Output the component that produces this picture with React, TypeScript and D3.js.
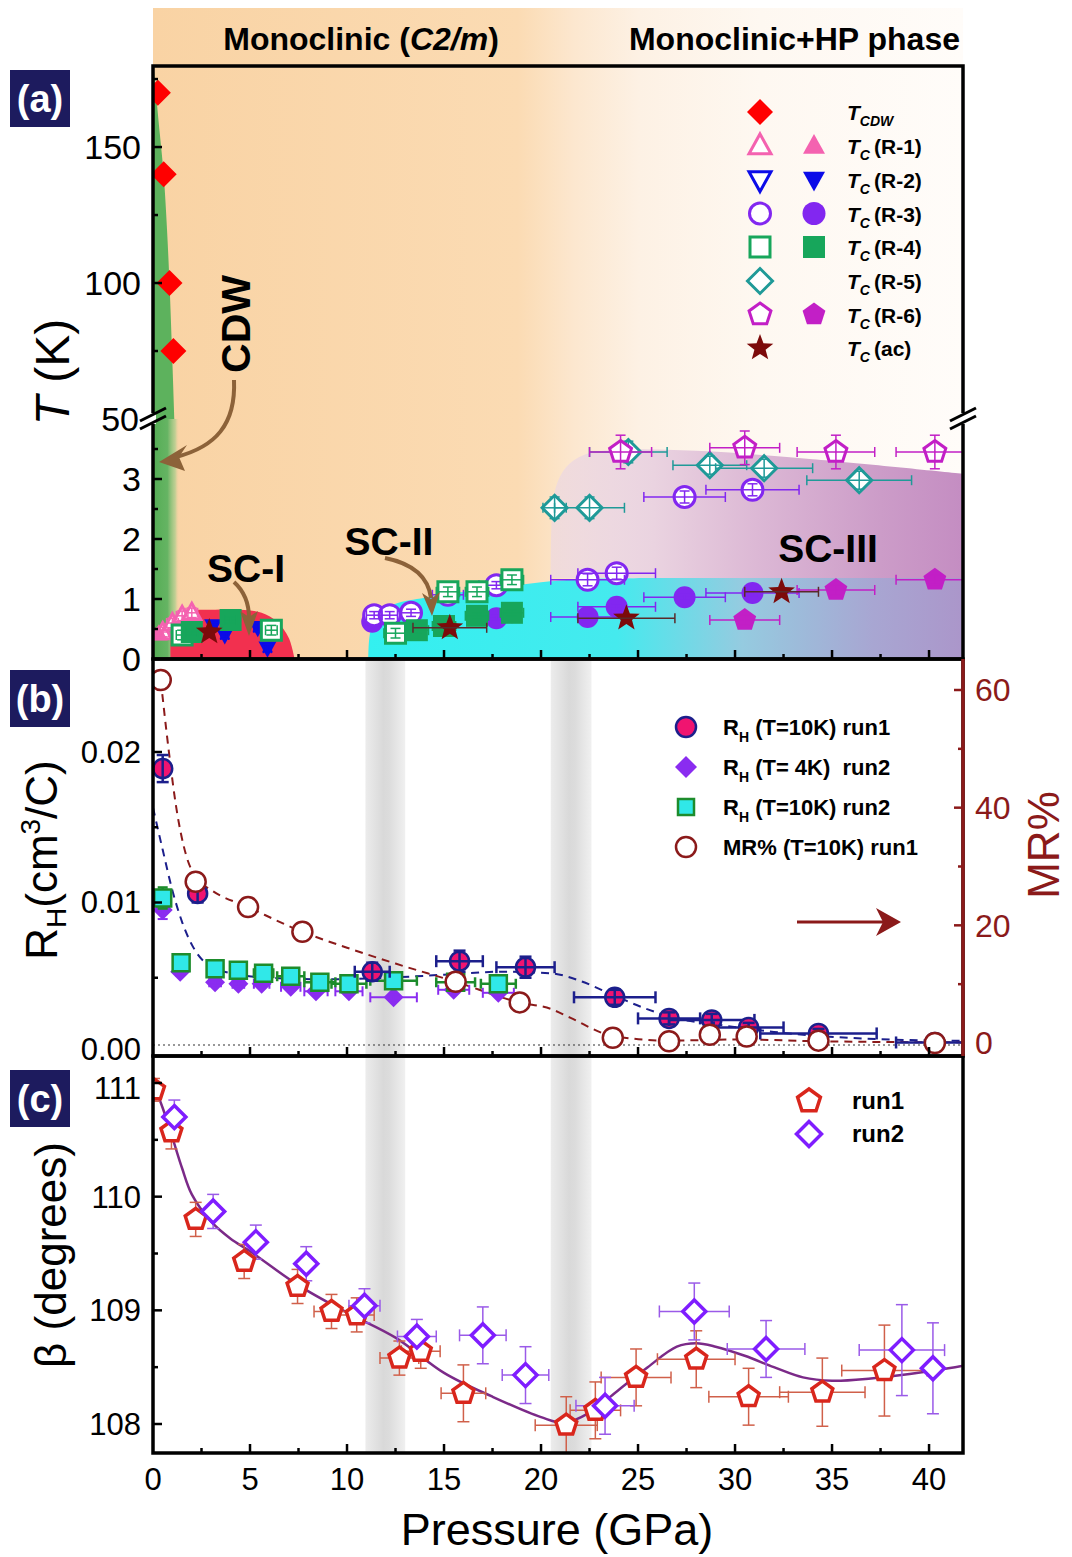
import React from 'react';
import * as d3 from 'd3';

const FONT = "'Liberation Sans', Arial, Helvetica, sans-serif";

// ---------- panel (a): phase diagram  [P (GPa), T (K), xErr, yErr]
const tcdw = [[0.25, 170], [0.55, 140], [0.85, 100], [1.05, 75]];
const r1Open = [[0.5, 0.45, 0.3, 0.08], [1.0, 0.6, 0.3, 0.08], [1.5, 0.72, 0.3, 0.08], [2.0, 0.77, 0.3, 0.08]];
const r1Fill = [[0.3, 0.42, 0.2, 0.06]];
const r2Fill = [[3.1, 0.55, 0.2, 0.06], [3.7, 0.4, 0.2, 0.06], [5.4, 0.52, 0.2, 0.06], [5.9, 0.18, 0.2, 0.06]];
const r3Open = [[11.4, 0.73, 0.4, 0.06], [12.2, 0.73, 0.4, 0.06], [13.3, 0.77, 0.5, 0.06], [15.2, 1.07, 0.8, 0.06], [17.7, 1.23, 0.9, 0.06], [22.4, 1.32, 1.9, 0.1], [23.9, 1.43, 2.0, 0.1], [27.4, 2.7, 2.1, 0.1], [30.9, 2.82, 2.4, 0.1]];
const r3Fill = [[11.3, 0.62, 0.4, 0.05], [17.7, 0.68, 0.8, 0.05], [22.4, 0.7, 1.9, 0.05], [23.9, 0.87, 2.0, 0.05], [27.4, 1.03, 2.1, 0.05], [30.9, 1.1, 2.4, 0.05]];
const r4Open = [[1.5, 0.4, 0.3, 0.08], [6.1, 0.48, 0.3, 0.08], [12.5, 0.43, 0.6, 0.08], [15.2, 1.12, 0.6, 0.08], [16.7, 1.12, 0.6, 0.08], [18.5, 1.32, 0.6, 0.08]];
const r4Fill = [[2.0, 0.45, 0.3, 0.05], [4.0, 0.65, 0.3, 0.05], [13.6, 0.48, 0.6, 0.05], [15.0, 0.55, 0.6, 0.05], [16.7, 0.72, 0.6, 0.05], [18.5, 0.77, 0.6, 0.05]];
const r5Open = [[20.7, 2.52, 0.6, 0.18], [22.5, 2.52, 1.8, 0.18], [24.5, 3.45, 2.0, 0.18], [28.7, 3.23, 1.9, 0.15], [31.5, 3.18, 2.5, 0.15], [36.4, 2.98, 2.7, 0.15]];
const r6Open = [[24.1, 3.45, 1.6, 0.28], [30.5, 3.52, 1.8, 0.28], [35.2, 3.45, 2.0, 0.28], [40.3, 3.45, 2.0, 0.28]];
const r6Fill = [[30.5, 0.65, 1.8, 0.08], [35.2, 1.15, 2.0, 0.08], [40.3, 1.32, 2.0, 0.08]];
const acStar = [[2.9, 0.45, 0, 0], [15.3, 0.52, 1.9, 0], [24.4, 0.68, 2.5, 0], [32.4, 1.12, 1.9, 0]];

// phase region outlines
const cdwEdge = [[0.05, 178], [0.15, 170], [0.35, 155], [0.55, 140], [0.72, 120], [0.85, 100], [0.98, 75], [1.1, 50]];
const sc1Dome = [[0.9, 0], [0.95, 0.45], [1.2, 0.7], [1.8, 0.8], [3, 0.82], [4.5, 0.82], [5.6, 0.77], [6.4, 0.62], [7.0, 0.35], [7.3, 0]];
const sc2Edge = [[11.1, 0], [11.2, 0.45], [11.6, 0.75], [12.5, 0.92], [14, 1.02], [16, 1.12], [18, 1.2], [20, 1.28], [22, 1.33], [26, 1.35], [42, 1.35]];
const sc3Edge = [[20.5, 1.35], [20.55, 2.3], [20.75, 2.85], [21.3, 3.2], [22.2, 3.4], [23.5, 3.48], [28, 3.47], [34, 3.33], [42, 3.08]];

// ---------- panel (b): Hall coefficient & MR  [P, value, xErr, yErr]
const rhRun1 = [[0.5, 0.0189, 0, 0.0009], [2.3, 0.0106, 0, 0.0006], [11.3, 0.0054, 0.9, 0.0006], [15.8, 0.0061, 1.2, 0.0007], [19.2, 0.0057, 1.5, 0.0007], [23.8, 0.0037, 2.1, 0.0005], [26.6, 0.0023, 1.6, 0.0004], [28.8, 0.0022, 2.2, 0.0004], [30.7, 0.0017, 1.8, 0.0003], [34.3, 0.0013, 3.0, 0.0003], [40.3, 0.0007, 2.0, 0.0002]];
const rh4K = [[0.5, 0.0095, 0, 0.0006], [1.4, 0.0054, 0.2, 0.0002], [3.2, 0.0047, 0.3, 0.0002], [4.4, 0.0046, 0.3, 0.0002], [5.6, 0.0046, 0.4, 0.0002], [7.1, 0.0044, 0.5, 0.0002], [8.4, 0.0041, 0.6, 0.0002], [10.1, 0.0041, 0.7, 0.0002], [12.4, 0.0037, 1.2, 0.0002], [15.5, 0.0042, 0.8, 0.0002], [17.8, 0.004, 0.8, 0.0002]];
const rh10K = [[0.5, 0.0103, 0, 0.0007], [1.45, 0.006, 0.2, 0.0003], [3.2, 0.0056, 0.3, 0.0003], [4.4, 0.0055, 0.4, 0.0003], [5.7, 0.0053, 0.5, 0.0003], [7.1, 0.0051, 0.7, 0.0003], [8.6, 0.0047, 0.8, 0.0003], [10.1, 0.0046, 0.9, 0.0003], [12.4, 0.0048, 1.2, 0.0003], [15.6, 0.0047, 1.0, 0.0003], [17.8, 0.0046, 0.9, 0.0003]];
const mrRun1 = [[0.4, 61.7], [2.2, 27.4], [4.9, 23.1], [7.7, 18.9], [15.6, 10.4], [18.9, 6.9], [23.7, 0.9], [26.6, 0.3], [28.7, 1.4], [30.6, 1.1], [34.3, 0.4], [40.3, 0]];
const rhGuide = [[0, 0.0163], [0.5, 0.0135], [1, 0.0108], [1.5, 0.0087], [2, 0.0072], [2.7, 0.006], [4, 0.0053], [6, 0.005], [9, 0.0049], [12, 0.005], [15, 0.0052], [18, 0.0054], [20.5, 0.0053], [22, 0.0048], [23.8, 0.0038], [25.5, 0.0029], [27, 0.0023], [29, 0.0019], [32, 0.0014], [36, 0.001], [42, 0.0008]];
const mrGuide = [[0.4, 61.7], [0.8, 50], [1.2, 40], [1.7, 32], [2.2, 28.2], [3, 26], [4.9, 23.1], [7.7, 18.9], [10, 16.2], [12.5, 13.5], [15.6, 10.4], [18.9, 6.9], [20.5, 5.8], [21.5, 4.3], [23.7, 1.2], [26.6, 0.4], [30, 0.6], [34.3, 0.3], [42, 0.1]];

// ---------- panel (c): monoclinic angle beta  [P, beta, xErr, yErr]
const betaRun1 = [[0.05, 110.94, 0, 0.1], [0.95, 110.57, 0, 0.15], [2.2, 109.8, 0, 0.15], [4.7, 109.43, 0, 0.15], [7.45, 109.21, 0.4, 0.15], [9.2, 108.99, 0.9, 0.15], [10.5, 108.96, 0.9, 0.15], [12.7, 108.58, 1.0, 0.15], [13.8, 108.64, 1.0, 0.15], [16.0, 108.27, 1.15, 0.25], [21.3, 107.99, 1.6, 0.25], [22.8, 108.12, 1.3, 0.25], [24.9, 108.41, 1.8, 0.25], [28.0, 108.57, 2.0, 0.25], [30.7, 108.24, 2.05, 0.25], [34.5, 108.28, 2.2, 0.3], [37.7, 108.47, 2.2, 0.4]];
const betaRun2 = [[1.1, 110.7, 0, 0.15], [3.1, 109.87, 0, 0.15], [5.3, 109.6, 0, 0.15], [7.9, 109.41, 0, 0.15], [10.9, 109.04, 0.8, 0.15], [13.6, 108.77, 1.0, 0.15], [17.0, 108.78, 1.2, 0.25], [19.2, 108.43, 1.2, 0.25], [23.3, 108.16, 1.5, 0.25], [27.9, 108.99, 1.8, 0.25], [31.6, 108.66, 2.0, 0.25], [38.6, 108.65, 2.2, 0.4], [40.2, 108.49, 0, 0.4]];
const betaFit = [[0, 111.0], [0.5, 110.78], [1, 110.52], [1.5, 110.25], [2, 110.02], [3, 109.78], [4, 109.63], [5, 109.52], [7.5, 109.22], [10, 108.98], [12.5, 108.76], [15, 108.45], [17.5, 108.24], [20, 108.06], [21.2, 108.01], [22.5, 108.1], [24, 108.3], [25.5, 108.5], [27, 108.68], [28, 108.71], [29, 108.68], [30.5, 108.6], [32, 108.5], [33.5, 108.41], [35, 108.38], [37, 108.4], [39, 108.44], [41, 108.49], [42, 108.52]];

const grayBands = [[10.95, 13.0], [20.5, 22.6]];

const aLegendRows = ['CDW', '(R-1)', '(R-2)', '(R-3)', '(R-4)', '(R-5)', '(R-6)', '(ac)'];
const bLegendRows = [' (T=10K) run1', ' (T= 4K)  run2', ' (T=10K) run2', 'MR% (T=10K) run1'];
const cLegendRows = ['run1', 'run2'];
const xTickLabels = [0, 5, 10, 15, 20, 25, 30, 35, 40];

const COL = {
  cdw: '#ff0000', r1: '#f462b0', r2: '#0b0be8', r3: '#8227f0', r4: '#17a65b',
  r5: '#1f9a98', r6: '#c21fc6', ac: '#7c0a0a', navy: '#1c1f8c', mr: '#8b1a1a',
  pink: '#f01470', cyan: '#30e8e8', green: '#1d8c2c', purple: '#8a2cf0',
  run1: '#d9261c', run2: '#7f1dff', fit: '#7b2a88', brown: '#8c6239'
};

// scales
const L = 153, R = 963;
const X = d3.scaleLinear().domain([0, 41.75]).range([L, R]);
const yUp = d3.scaleLinear().domain([50, 179.8]).range([419, 66]);
const yLo = d3.scaleLinear().domain([0, 4]).range([659, 419]);
const yRH = d3.scaleLinear().domain([0, 0.02]).range([1053, 752]);
const yMR = d3.scaleLinear().domain([0, 60]).range([1043, 690]);
const yB = d3.scaleLinear().domain([108, 111]).range([1424, 1083]);

function shape(kind: string, r: number) {
  if (kind === 'circle') return `M${r},0A${r},${r} 0 1,1 ${-r},0A${r},${r} 0 1,1 ${r},0Z`;
  if (kind === 'square') return `M${-r},${-r}H${r}V${r}H${-r}Z`;
  if (kind === 'diamond') return `M0,${-r}L${r},0L0,${r}L${-r},0Z`;
  if (kind === 'up') return `M0,${-r * 1.05}L${r},${r * 0.75}L${-r},${r * 0.75}Z`;
  if (kind === 'down') return `M0,${r * 1.05}L${r},${-r * 0.75}L${-r},${-r * 0.75}Z`;
  const n = kind === 'star' ? 10 : 5;
  const pts = d3.range(n).map(i => {
    const a = -Math.PI / 2 + (i * 2 * Math.PI) / n;
    const rr = kind === 'star' && i % 2 ? r * 0.42 : r;
    return [rr * Math.cos(a), rr * Math.sin(a)];
  });
  return 'M' + pts.map(p => p.join(',')).join('L') + 'Z';
}

function Mk({ kind, x, y, r, fill, stroke, sw = 0 }: any) {
  return <path d={shape(kind, r)} transform={`translate(${x},${y})`} fill={fill} stroke={stroke || 'none'} strokeWidth={sw} />;
}

function EB({ x, y, x0, x1, y0, y1, color, w = 1.5, cap = 5 }: any) {
  return (
    <g stroke={color} strokeWidth={w} fill="none">
      {x1 - x0 > 0.5 && <>
        <line x1={x0} x2={x1} y1={y} y2={y} />
        <line x1={x0} x2={x0} y1={y - cap} y2={y + cap} />
        <line x1={x1} x2={x1} y1={y - cap} y2={y + cap} />
      </>}
      {y0 - y1 > 0.5 && <>
        <line x1={x} x2={x} y1={y0} y2={y1} />
        <line x1={x - cap} x2={x + cap} y1={y0} y2={y0} />
        <line x1={x - cap} x2={x + cap} y1={y1} y2={y1} />
      </>}
    </g>
  );
}

const aSeries = [
  { data: r1Open, kind: 'up', c: COL.r1, open: true, r: 9 },
  { data: r1Fill, kind: 'up', c: COL.r1, open: false, r: 9 },
  { data: r2Fill, kind: 'down', c: COL.r2, open: false, r: 9 },
  { data: r3Fill, kind: 'circle', c: COL.r3, open: false, r: 11 },
  { data: r3Open, kind: 'circle', c: COL.r3, open: true, r: 10.5 },
  { data: r5Open, kind: 'diamond', c: COL.r5, open: true, r: 12.5 },
  { data: r6Open, kind: 'pentagon', c: COL.r6, open: true, r: 11.5 },
  { data: r4Open, kind: 'square', c: COL.r4, open: true, r: 10 },
  { data: r4Fill, kind: 'square', c: COL.r4, open: false, r: 11 },
  { data: r6Fill, kind: 'pentagon', c: COL.r6, open: false, r: 12 },
  { data: acStar, kind: 'star', c: COL.ac, open: false, r: 14, ec: '#5a2a2a' },
];

const aLegendMk = [
  [['diamond', COL.cdw, false, 13]],
  [['up', COL.r1, true, 11], ['up', COL.r1, false, 11]],
  [['down', COL.r2, true, 11], ['down', COL.r2, false, 11]],
  [['circle', COL.r3, true, 10.5], ['circle', COL.r3, false, 11.5]],
  [['square', COL.r4, true, 10], ['square', COL.r4, false, 11]],
  [['diamond', COL.r5, true, 12.5]],
  [['pentagon', COL.r6, true, 11.5], ['pentagon', COL.r6, false, 12]],
  [['star', COL.ac, false, 14]],
];

function ticksX(y: number, up = true) {
  return d3.range(2.5, 41.7, 2.5).map(v => {
    const len = v % 5 === 0 ? 9 : 5;
    return <line key={v} x1={X(v)} x2={X(v)} y1={y} y2={up ? y - len : y + len} stroke="#000" strokeWidth={2.5} />;
  });
}

function ticksY(scale: any, vals: number[], majors: number[], x: number, dir: number, color = '#000') {
  return vals.map(v => {
    const len = majors.includes(v) ? 9 : 5;
    return <line key={v} x1={x} x2={x + dir * len} y1={scale(v)} y2={scale(v)} stroke={color} strokeWidth={2.5} />;
  });
}

export default function App() {
  const curve = d3.line().curve(d3.curveCatmullRom);
  const mono = d3.line().curve(d3.curveMonotoneX);

  const cdwPath = curve(cdwEdge.map(([p, t]) => [X(p), yUp(t)]) as any) + `L${X(0)},${yUp(50)}L${X(0)},${yUp(179.8)}Z`;
  const sc1Path = curve(sc1Dome.map(([p, t]) => [X(p), yLo(t)]) as any) + 'Z';
  const sc2Path = curve(sc2Edge.map(([p, t]) => [X(p), yLo(t)]) as any) + `L${X(42)},${yLo(0)}Z`;
  const sc3Path = curve(sc3Edge.map(([p, t]) => [X(p), yLo(t)]) as any) + `L${X(42)},${yLo(1.35)}Z`;

  const legY = [112, 145.5, 180, 213.5, 247, 281, 314.5, 348];
  const bLegY = [727, 767, 807, 847];

  return (
    <svg width={1072} height={1557} style={{ position: 'absolute', left: 0, top: 0, background: '#fff' }} fontFamily={FONT}>
      <defs>
        <linearGradient id="bgA" gradientUnits="userSpaceOnUse" x1={L} x2={R} y1={0} y2={0}>
          <stop offset="0" stopColor="#f9d3a4" />
          <stop offset="0.45" stopColor="#fbdbb3" />
          <stop offset="0.52" stopColor="#fce7cf" />
          <stop offset="0.6" stopColor="#fdf1e4" />
          <stop offset="0.75" stopColor="#fef8f1" />
          <stop offset="1" stopColor="#fffcf9" />
        </linearGradient>
        <linearGradient id="greenLo" gradientUnits="userSpaceOnUse" x1={L} x2={X(1.35)} y1={0} y2={0}>
          <stop offset="0" stopColor="#55ad55" />
          <stop offset="0.55" stopColor="#65b463" />
          <stop offset="0.85" stopColor="#a8cd8c" stopOpacity="0.7" />
          <stop offset="1" stopColor="#f8d0a0" stopOpacity="0" />
        </linearGradient>
        <linearGradient id="cyanG" gradientUnits="userSpaceOnUse" x1={X(11)} x2={R} y1={0} y2={0}>
          <stop offset="0" stopColor="#33f0f0" />
          <stop offset="0.42" stopColor="#45eaee" />
          <stop offset="0.63" stopColor="#95cbe0" />
          <stop offset="0.85" stopColor="#a8a6d2" />
          <stop offset="1" stopColor="#ab96ca" />
        </linearGradient>
        <linearGradient id="purpG" gradientUnits="userSpaceOnUse" x1={X(20.5)} x2={R} y1={0} y2={0}>
          <stop offset="0" stopColor="#ecd8e2" stopOpacity="0.7" />
          <stop offset="0.25" stopColor="#ead3e0" />
          <stop offset="0.5" stopColor="#dcb8d5" />
          <stop offset="0.8" stopColor="#cc9cc8" />
          <stop offset="1" stopColor="#c48dc2" />
        </linearGradient>
        <linearGradient id="band" x1="0" x2="1" y1="0" y2="0">
          <stop offset="0" stopColor="#ececec" />
          <stop offset="0.45" stopColor="#d9d9d9" />
          <stop offset="0.6" stopColor="#dcdcdc" />
          <stop offset="1" stopColor="#f0f0f0" />
        </linearGradient>
        <clipPath id="clipA"><rect x={L} y={66} width={R - L} height={593} /></clipPath>
        <clipPath id="clipB"><rect x={L} y={659} width={R - L} height={397} /></clipPath>
        <clipPath id="clipC"><rect x={L} y={1056} width={R - L} height={397} /></clipPath>
      </defs>

      {/* header strip + panel (a) background */}
      <rect x={L} y={8} width={R - L} height={651} fill="url(#bgA)" />
      <text x={361} y={50} textAnchor="middle" fontSize={32} fontWeight="bold">
        Monoclinic (<tspan fontStyle="italic">C2/m</tspan>)
      </text>
      <text x={960} y={50} textAnchor="end" fontSize={32} fontWeight="bold">Monoclinic+HP phase</text>

      {/* phase regions */}
      <g clipPath="url(#clipA)">
        <path d={cdwPath} fill="#5db25d" />
        <rect x={L} y={419} width={X(1.35) - L} height={240} fill="url(#greenLo)" />
        <path d={sc1Path} fill="#f2304f" />
        <path d={sc2Path} fill="url(#cyanG)" />
        <path d={sc3Path} fill="url(#purpG)" />

        {tcdw.map(([p, t], i) => <Mk key={i} kind="diamond" x={X(p)} y={yUp(t)} r={13} fill={COL.cdw} />)}

        {aSeries.map((s, si) => (
          <g key={si}>
            {s.data.map(([p, t], i) => (
              <Mk key={i} kind={s.kind} x={X(p)} y={yLo(t)} r={s.r} fill={s.open ? '#fff' : s.c} stroke={s.open ? s.c : 'none'} sw={s.open ? 3 : 0} />
            ))}
            {s.data.map(([p, t, xe, ye], i) => (
              <EB key={'e' + i} x={X(p)} y={yLo(t)} x0={X(p - xe)} x1={X(p + xe)} y0={yLo(t - ye)} y1={yLo(t + ye)} color={(s as any).ec || s.c} w={1.5} cap={5} />
            ))}
          </g>
        ))}
      </g>

      {/* arrows (a) */}
      <g stroke={COL.brown} strokeWidth={4} fill="none">
        <path d="M234,380 C236,425 215,447 176,457" />
        <path d="M234,582 C245,592 249,604 249,618" />
        <path d="M385,558 C410,563 428,575 431,598" />
      </g>
      <g fill={COL.brown}>
        <path d="M159,462 L187,445 L179,457 L185,471 Z" />
        <path d="M249,636 L240,611 L249,617 L258,611 Z" />
        <path d="M432,616 L422,593 L431,599 L440,592 Z" />
      </g>
      <text transform="translate(236,324) rotate(-90)" textAnchor="middle" dy="0.35em" fontSize={41} fontWeight="bold">CDW</text>
      <text x={246} y={582} textAnchor="middle" fontSize={39} fontWeight="bold">SC-I</text>
      <text x={389} y={555} textAnchor="middle" fontSize={39} fontWeight="bold">SC-II</text>
      <text x={828} y={562} textAnchor="middle" fontSize={39} fontWeight="bold">SC-III</text>

      {/* legend (a) */}
      {aLegendMk.map((row, ri) => row.map(([kind, c, open, r], ci) => (
        <Mk key={ri + '-' + ci} kind={kind} x={ci === 0 ? 760 : 814} y={legY[ri]} r={r} fill={open ? '#fff' : c} stroke={open ? c : 'none'} sw={open ? 3 : 0} />
      )))}
      {aLegendRows.map((lab, i) => (
        <text key={i} x={847} y={legY[i] + 8} fontSize={21} fontWeight="bold">
          <tspan fontStyle="italic">T</tspan>
          {i === 0
            ? <tspan fontStyle="italic" fontSize={14} dy={6}>CDW</tspan>
            : <><tspan fontStyle="italic" fontSize={14} dy={6}>C</tspan><tspan x={874} dy={-6}>{lab}</tspan></>}
        </text>
      ))}

      {/* gray bands (b)(c) */}
      {grayBands.map(([a, b], i) => <rect key={i} x={X(a)} y={659} width={X(b) - X(a)} height={794} fill="url(#band)" />)}

      {/* panel (b) */}
      <g clipPath="url(#clipB)">
        <line x1={L} x2={R} y1={1045} y2={1045} stroke="#333" strokeWidth={1.2} strokeDasharray="2,3" />
        <path d={mono(rhGuide.map(([p, v]) => [X(p), yRH(v)]) as any) || ''} fill="none" stroke={COL.navy} strokeWidth={2} strokeDasharray="8,6" />
        <path d={mono(mrGuide.map(([p, v]) => [X(p), yMR(v)]) as any) || ''} fill="none" stroke={COL.mr} strokeWidth={2} strokeDasharray="8,6" />
        {rh4K.map(([p, v, xe, ye], i) => (
          <g key={'d' + i}>
            <Mk kind="diamond" x={X(p)} y={yRH(v)} r={10} fill={COL.purple} />
            <EB x={X(p)} y={yRH(v)} x0={X(p - xe)} x1={X(p + xe)} y0={yRH(v - ye)} y1={yRH(v + ye)} color={COL.purple} w={2} cap={5} />
          </g>
        ))}
        {rh10K.map(([p, v, xe, ye], i) => (
          <g key={'s' + i}>
            <EB x={X(p)} y={yRH(v)} x0={X(p - xe)} x1={X(p + xe)} y0={yRH(v - ye)} y1={yRH(v + ye)} color={COL.green} w={2.5} cap={5} />
            <Mk kind="square" x={X(p)} y={yRH(v)} r={8.5} fill={COL.cyan} stroke={COL.green} sw={2.5} />
          </g>
        ))}
        {rhRun1.map(([p, v, xe, ye], i) => (
          <g key={'c' + i}>
            <Mk kind="circle" x={X(p)} y={yRH(v)} r={9.5} fill={COL.pink} stroke={COL.navy} sw={2.5} />
            <EB x={X(p)} y={yRH(v)} x0={X(p - xe)} x1={X(p + xe)} y0={yRH(v - ye)} y1={yRH(v + ye)} color={COL.navy} w={2.5} cap={6} />
          </g>
        ))}
        {mrRun1.map(([p, v], i) => (
          <Mk key={'m' + i} kind="circle" x={X(p)} y={yMR(v)} r={10} fill="#fff" stroke={COL.mr} sw={2.5} />
        ))}
      </g>
      {/* arrow (b) */}
      <line x1={797} x2={885} y1={922} y2={922} stroke={COL.mr} strokeWidth={3} />
      <path d="M901,922 L876,908 L883,922 L876,936 Z" fill={COL.mr} />
      {/* legend (b) */}
      <Mk kind="circle" x={686} y={bLegY[0]} r={10} fill={COL.pink} stroke={COL.navy} sw={2.5} />
      <Mk kind="diamond" x={686} y={bLegY[1]} r={11} fill={COL.purple} />
      <Mk kind="square" x={686} y={bLegY[2]} r={8} fill={COL.cyan} stroke={COL.green} sw={2.5} />
      <Mk kind="circle" x={686} y={bLegY[3]} r={10} fill="#fff" stroke={COL.mr} sw={2.5} />
      {bLegendRows.map((lab, i) => (
        <text key={i} x={723} y={bLegY[i] + 8} fontSize={22} fontWeight="bold" style={{ whiteSpace: 'pre' }}>
          {i < 3 ? <>R<tspan fontSize={14} dy={7}>H</tspan><tspan dy={-7}>{lab}</tspan></> : lab}
        </text>
      ))}

      {/* panel (c) */}
      <g clipPath="url(#clipC)">
        <path d={curve(betaFit.map(([p, v]) => [X(p), yB(v)]) as any) || ''} fill="none" stroke={COL.fit} strokeWidth={2.5} />
        {betaRun1.map(([p, v, xe, ye], i) => (
          <EB key={'e1' + i} x={X(p)} y={yB(v)} x0={X(p - xe)} x1={X(p + xe)} y0={yB(v - ye)} y1={yB(v + ye)} color="#d0604a" w={1.5} cap={6} />
        ))}
        {betaRun2.map(([p, v, xe, ye], i) => (
          <EB key={'e2' + i} x={X(p)} y={yB(v)} x0={X(p - xe)} x1={X(p + xe)} y0={yB(v - ye)} y1={yB(v + ye)} color="#9a5ae8" w={1.5} cap={6} />
        ))}
        {betaRun1.map(([p, v], i) => (
          <Mk key={'p' + i} kind="pentagon" x={X(p)} y={yB(v)} r={11} fill="#fff" stroke={COL.run1} sw={3.5} />
        ))}
        {betaRun2.map(([p, v], i) => (
          <Mk key={'q' + i} kind="diamond" x={X(p)} y={yB(v)} r={11.5} fill="#fff" stroke={COL.run2} sw={3.5} />
        ))}
      </g>
      <Mk kind="pentagon" x={809} y={1101} r={12} fill="#fff" stroke={COL.run1} sw={3.5} />
      <Mk kind="diamond" x={809} y={1134} r={12.5} fill="#fff" stroke={COL.run2} sw={3.5} />
      {cLegendRows.map((lab, i) => (
        <text key={i} x={852} y={1109 + i * 33} fontSize={24} fontWeight="bold">{lab}</text>
      ))}

      {/* frames and ticks */}
      <g fill="none" stroke="#000" strokeWidth={3.5}>
        <rect x={L} y={66} width={R - L} height={593} />
        <rect x={L} y={659} width={R - L} height={397} />
        <rect x={L} y={1056} width={R - L} height={397} />
      </g>
      <line x1={R} x2={R} y1={659} y2={1056} stroke={COL.mr} strokeWidth={3.5} />
      {ticksX(659)}
      {ticksX(1056)}
      {ticksX(1453)}
      {ticksY(yUp, [75, 100, 125, 150, 175], [100, 150], L, 1)}
      {ticksY(yLo, [0.5, 1, 1.5, 2, 2.5, 3, 3.5], [1, 2, 3], L, 1)}
      {ticksY(yRH, [0.005, 0.01, 0.015, 0.02], [0.01, 0.02], L, 1)}
      {ticksY(yMR, [10, 20, 30, 40, 50, 60], [20, 40, 60], R, -1, COL.mr)}
      {ticksY(yB, [108, 108.5, 109, 109.5, 110, 110.5, 111], [108, 109, 110, 111], L, 1)}

      {/* axis breaks */}
      <rect x={L - 3} y={413} width={6} height={11} fill="#fff" />
      <rect x={R - 3} y={413} width={6} height={11} fill="#fff" />
      <g stroke="#000" strokeWidth={3}>
        <line x1={140} x2={166} y1={421} y2={408} />
        <line x1={140} x2={166} y1={429} y2={416} />
        <line x1={950} x2={976} y1={421} y2={408} />
        <line x1={950} x2={976} y1={429} y2={416} />
      </g>

      {/* tick labels */}
      <g fontSize={34} textAnchor="end">
        {[150, 100].map(v => <text key={v} x={141} y={yUp(v)} dy="0.35em">{v}</text>)}
        <text x={139} y={419} dy="0.35em">50</text>
        {[0, 1, 2, 3].map(v => <text key={v} x={141} y={yLo(v)} dy="0.35em">{v}</text>)}
      </g>
      <g fontSize={31} textAnchor="end">
        {[0.01, 0.02].map(v => <text key={v} x={141} y={yRH(v)} dy="0.35em">{v.toFixed(2)}</text>)}
        <text x={141} y={1049} dy="0.35em">0.00</text>
        {[108, 109, 110].map(v => <text key={v} x={141} y={yB(v)} dy="0.35em">{v}</text>)}
        <text x={141} y={1088} dy="0.35em">111</text>
      </g>
      <g fontSize={32} fill={COL.mr}>
        {[0, 20, 40, 60].map(v => <text key={v} x={975} y={yMR(v)} dy="0.35em">{v}</text>)}
      </g>
      <g fontSize={31} textAnchor="middle">
        {xTickLabels.map(v => <text key={v} x={X(v)} y={1490}>{v}</text>)}
      </g>

      {/* axis titles */}
      <text transform="translate(69,372) rotate(-90)" textAnchor="middle" fontSize={48}><tspan fontStyle="italic">T</tspan> (K)</text>
      <text transform="translate(57,860) rotate(-90)" textAnchor="middle" fontSize={44}>
        R<tspan fontSize={28} dy={9}>H</tspan><tspan dy={-9}>(cm</tspan><tspan fontSize={28} dy={-17}>3</tspan><tspan dy={17}>/C)</tspan>
      </text>
      <text transform="translate(1059,845) rotate(-90)" textAnchor="middle" fontSize={44} fill={COL.mr}>MR%</text>
      <text transform="translate(66,1255) rotate(-90)" textAnchor="middle" fontSize={44}>β (degrees)</text>
      <text x={557} y={1545} textAnchor="middle" fontSize={45}>Pressure (GPa)</text>

      {/* panel labels */}
      {[['(a)', 70], ['(b)', 670], ['(c)', 1070]].map(([t, y]) => (
        <g key={t as string}>
          <rect x={10} y={y as number} width={60} height={57} fill="#1d1b5e" />
          <text x={40} y={(y as number) + 28.5} dy="0.35em" textAnchor="middle" fontSize={38} fontWeight="bold" fill="#fff">{t}</text>
        </g>
      ))}
    </svg>
  );
}
